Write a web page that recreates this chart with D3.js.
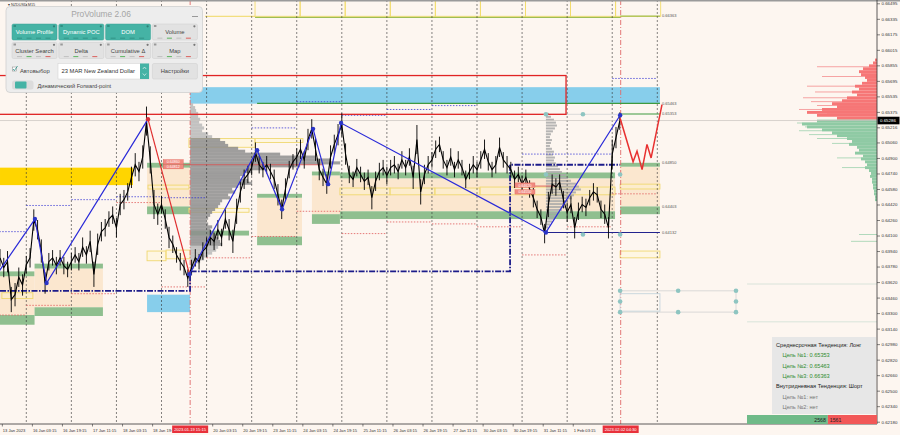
<!DOCTYPE html>
<html><head><meta charset="utf-8">
<script src="https://cdn.jsdelivr.net/npm/d3@7"></script>
<style>html,body{margin:0;padding:0;background:#fdf6f0;overflow:hidden}svg{display:block;font-family:"Liberation Sans","DejaVu Sans",Arial,sans-serif}</style>
</head><body>
<svg id="chart" width="900" height="435"></svg>
<script>
// ---------------- DATA ----------------
const symbolLabel = "▾ NZDUSD,M15";
const currentPrice = 0.65286;
const priceStartHour = -14, priceStepHours = 2;   // trading hours from 16 Jan 00:00
const closes = [
 0.6387,0.6377,0.6383,0.6344,0.6349,0.6367,0.6359,0.6380,0.6387,0.6426,
 0.6416,0.6394,0.6361,0.6383,0.6387,0.6379,0.6387,0.6379,0.6375,0.6383,
 0.6390,0.6383,0.6398,0.6390,0.6404,0.6370,0.6401,0.6414,0.6418,0.6427,
 0.6431,0.6418,0.6442,0.6447,0.6455,0.6470,0.6483,0.6476,0.6491,0.6528,
 0.6488,0.6442,0.6432,0.6442,0.6427,0.6408,0.6401,0.6390,0.6383,0.6377,
 0.6366,0.6377,0.6387,0.6383,0.6394,0.6398,0.6408,0.6404,0.6416,0.6408,
 0.6427,0.6416,0.6404,0.6435,0.6455,0.6468,0.6473,0.6480,0.6496,0.6483,
 0.6478,0.6483,0.6476,0.6468,0.6452,0.6437,0.6458,0.6478,0.6486,0.6491,
 0.6499,0.6488,0.6509,0.6520,0.6499,0.6478,0.6470,0.6463,0.6491,0.6504,
 0.6514,0.6524,0.6494,0.6473,0.6468,0.6480,0.6473,0.6466,0.6470,0.6449,
 0.6466,0.6476,0.6480,0.6472,0.6480,0.6483,0.6476,0.6488,0.6480,0.6491,
 0.6470,0.6509,0.6455,0.6473,0.6483,0.6488,0.6499,0.6504,0.6488,0.6480,
 0.6491,0.6478,0.6488,0.6480,0.6468,0.6476,0.6483,0.6478,0.6488,0.6499,
 0.6486,0.6478,0.6483,0.6501,0.6488,0.6483,0.6478,0.6468,0.6473,0.6463,
 0.6470,0.6458,0.6449,0.6437,0.6429,0.6412,0.6442,0.6463,0.6460,0.6465,
 0.6447,0.6434,0.6442,0.6418,0.6435,0.6442,0.6439,0.6449,0.6455,0.6452,
 0.6437,0.6432,0.6418,0.6494,0.6511,0.6528];
// 2-hour bar ranges, pips
const rangePips = [
 18,20,22,26,24,20,22,18,20,22, 20,24,22,18,16,18,16,18,16,18,
 16,18,20,18,22,26,22,20,18,16, 18,20,22,20,18,22,24,20,24,30,
 28,30,22,18,20,22,18,16,18,16, 18,16,18,16,18,20,16,18,20,18,
 20,22,24,26,22,20,18,16,20,18, 16,18,16,20,22,20,22,18,16,18,
 20,18,22,20,24,22,18,20,24,20, 22,24,22,18,16,18,16,18,16,24,
 20,18,16,18,16,18,16,18,16,18, 24,30,26,20,18,16,18,16,18,16,
 18,16,18,16,18,16,18,16,18,20, 18,16,18,20,16,18,16,18,16,18,
 16,18,20,18,16,20,26,20,18,16, 18,20,18,22,18,16,18,16,18,16,
 18,20,22,30,22,18];

const yTicks = [0.66495,0.66335,0.66175,0.66015,0.65855,0.65695,0.65535,0.65375,0.65216,0.65060,
 0.64900,0.64740,0.64580,0.64420,0.64260,0.64100,0.63940,0.63780,0.63620,0.63460,0.63300,
 0.63140,0.62980,0.62820,0.62660,0.62500,0.62340,0.62180];

const timeLabelStartHour = -12.75, timeLabelStepHours = 16;
const timeLabels = ["13 Jan 2023","16 Jan 03:15","16 Jan 19:15","17 Jan 11:15","18 Jan 03:15","18 Jan 19:15",
 null,"20 Jan 03:15","20 Jan 19:15","23 Jan 11:15","24 Jan 03:15","24 Jan 19:15","25 Jan 11:15",
 "26 Jan 03:15","26 Jan 19:15","27 Jan 11:15","30 Jan 03:15","30 Jan 19:15","31 Jan 11:15","1 Feb 03:15"];
const timeMarkers = [{hour:87.25,label:"2023.01.19 15:15"},{hour:316.5,label:"2023.02.02 04:30"}];
const separatorDays = [0,1,2,3,4,5,6,7,8,9,10,11,12,13,14];

// zigzag
const zzLeftHours = [-16.7,4.6,10.8,64.8], zzLeftPrices = [0.6367,0.6427,0.6361,0.6530];
const zzDownHours = [64.8,86.9], zzDownPrices = [0.6530,0.6370];
const zzRightHours = [86.9,122.9,136.2,152.7,160.7,167.6,276.7,316.2];
const zzRightPrices = [0.6370,0.6498,0.6437,0.6520,0.6463,0.6526,0.64132,0.6534];
const forecastHours = [316.2,323.1,325.2,327.9,330.5,332.7,338.5];
const forecastPrices = [0.6531,0.6486,0.6497,0.6478,0.6504,0.6490,0.6545];

// value-area boxes [startHour, endHour, topBandHi, topBandLo, botBandHi, botBandLo]
const vaBoxes = [
 [-14,4.4,0.6373,0.6368,0.6328,0.6318],
 [4.4,40.8,0.6381,0.6376,0.6336,0.6327],
 [64.3,87.2,0.6485,0.6480,0.6440,0.6432],
 [122.9,146.8,0.6453,0.6449,0.6409,0.6400],
 [152.1,167.0,0.6476,0.6472,0.6432,0.6422],
 [167.0,313.5,0.6475,0.6469,0.6435,0.6427],
 [316.2,337.4,0.6485,0.6481,0.6440,0.6432]];
const greenBands = [[87.2,118.6,0.6415,0.6410]];
const goldBoxes = [[-14,56.8,0.6480,0.6462]];
const skyBoxes = [[87.2,337.4,0.6563,0.6546],[64.3,87.2,0.6349,0.6331]];
const yellowBoxes = [
 [-13,3.5,0.6351,0.6345],[64.8,86.6,0.6462,0.6458],[64.3,74.4,0.6394,0.6384],[74.4,87.2,0.6395,0.6386],
 [86.6,121.8,0.6510,0.6501],[121.8,147.3,0.6510,0.6506],[86.6,118.6,0.6438,0.6434],
 [167.0,193.7,0.6459,0.6452],[193.7,217.6,0.6459,0.6452],[217.6,241.6,0.6459,0.6452],[241.6,313.5,0.6460,0.6452],
 [316.2,337.4,0.6463,0.6458],[316.2,337.4,0.6394,0.6387]];
const topBoxStarts = [121.8,145.8,169.8,193.8,217.8,241.8,265.8,289.8,313.8];
const redRect = [-30,287.4,0.6575,0.6535];

// daily levels (day index, price)
const dayBlue = [[-1,0.6414],[0,0.6441],[1,0.6447],[2,0.6450],[3,0.6449],[5,0.6521],[6,0.6548],[7,0.6534],[8,0.6540],[9,0.6544],[11,0.6494],[12,0.6494],[13,0.6572]];
const dayRed = [[-1,0.6328],[0,0.6338],[1,0.6350],[2,0.6444],[3,0.6357],[4,0.6387],[5,0.6409],[6,0.6435],[7,0.6412],[8,0.6424],[9,0.6422],[10,0.6419],[11,0.6390],[12,0.6419],[13,0.6453]];

// POC step line
const stepHours = [-14,87.2,87.2,257.6,257.6,316.2];
const stepPrices = [0.6353,0.6353,0.6373,0.6373,0.6483,0.6483];

const levelTags = [0.66363,0.65463,0.65353,0.64850,0.64403,0.64132];
const targets = [0.65353,0.65463,0.66363];

// volume profiles
const profileA = {hour:87.25, start:0.6545, step:0.0003, vols:[3,5,6,8,8,10,9,12,14,12,18,22,30,35,38,48,55,90,125,140,150,110,75,62,55,50,58,62,48,42,45,38,40,32,30,28,25,22,20,18,16,18,22,20,24,26,28,30,32,28,26,22,18,14,10,6,4]};
const profileB = {hour:276.7, start:0.6535, step:0.0003, vols:[3,5,8,10,11,9,7,5,4,6,5,4,6,8,7,9,8,10,12,14,16,20,22,25,30,33,35,30,28,26,22,18,20,16,12,10,8,6,4,2]};
const profileC = {start:0.6591, step:0.0003, vols:[2,4,8,14,18,16,12,10,15,22,18,25,20,30,35,45,40,55,70,60,40,60,75,70,55,45,40,30,25,28,20,18,22,14,16,12,10,12,8,6,7,5,5,4,4,3,3,2,2]};
const profileCFaint = [[0.6584,60],[0.6574,55],[0.6564,70],[0.6558,62],[0.6552,74],[0.6548,66],[0.6544,60],[0.6540,78],[0.6536,50],
 [0.6526,80],[0.6522,72],[0.6518,78],[0.6514,68],[0.6510,60],[0.6505,45],[0.6490,40],[0.6480,35],[0.6411,18],[0.6404,26]];
const farLines = [0.6360,0.6321];

const dots = [[276.7,0.6535],[296.4,0.6535],[276.7,0.6473],[316.2,0.6473],[296.4,0.6411],[316.2,0.6411],
 [316.2,0.6353],[347.1,0.6353],[377.9,0.6353],[316.2,0.6342],[377.9,0.6342],[316.2,0.6331],[347.1,0.6331],[377.9,0.6331]];
const grayLines = [[276.7,316.2,0.6535,0.6535],[316.2,377.9,0.6353,0.6353],[316.2,377.9,0.6331,0.6331],[377.9,377.9,0.6353,0.6331]];
const grayRect = [316.2,337.4,0.6350,0.6332];
const navyLevel = [276.7,337.4,0.64132];
const pocRed = [[83.5,158,0.6483],[270.9,282,0.6461]];
const priceTags = [[72.9,0.6486,"0.64860"],[72.9,0.6481,"0.64812"],[260.2,0.6462,"0.64620"],[260.2,0.6455,"0.64550"]];

const deltaVolumes = [2568,1561];
const infoLines = [
 {t:"Среднесрочная Тенденция: Лонг", k:"h"},
 {t:"Цель №1: "+targets[0].toFixed(5), k:"g"},
 {t:"Цель №2: "+targets[1].toFixed(5), k:"g"},
 {t:"Цель №3: "+targets[2].toFixed(5), k:"g"},
 {t:"Внутридневная Тенденция: Шорт", k:"h"},
 {t:"Цель №1: нет", k:"n"},
 {t:"Цель №2: нет", k:"n"}];

// ---------------- DRAW ----------------
const PR = 877, PB = 424;
const x = d3.scaleLinear().domain([0,336]).range([26.3,657.3]);
const y = d3.scaleLinear().domain([0.62180,0.66495]).range([421.7,3.3]);
const svg = d3.select("#chart");
svg.append("rect").attr("width",900).attr("height",435).attr("fill","#fdf6f0");
svg.append("defs").append("clipPath").attr("id","clip").append("rect").attr("x",0).attr("y",0).attr("width",PR).attr("height",PB);
const plot = svg.append("g").attr("clip-path","url(#clip)");

function box(g,h0,h1,p0,p1){
  const yy0 = y(Math.max(p0,p1)), yy1 = y(Math.min(p0,p1));
  return g.append("rect").attr("x",x(h0)).attr("y",yy0).attr("width",x(h1)-x(h0)).attr("height",Math.max(0.8,yy1-yy0));
}
const BEIGE="#fbe7cf", GREEN="#8fbf8f";
vaBoxes.forEach(b=>{
  box(plot,b[0],b[1],b[3],b[4]).attr("fill",BEIGE);
  box(plot,b[0],b[1],b[2],b[3]).attr("fill",GREEN);
  box(plot,b[0],b[1],b[4],b[5]).attr("fill",GREEN);
});
greenBands.forEach(b=>box(plot,b[0],b[1],b[2],b[3]).attr("fill",GREEN));
goldBoxes.forEach(b=>box(plot,b[0],b[1],b[2],b[3]).attr("fill","#ffd500"));
skyBoxes.forEach(b=>box(plot,b[0],b[1],b[2],b[3]).attr("fill","#87ceeb"));

topBoxStarts.forEach(h=>{
  plot.append("rect").attr("x",x(h)).attr("y",-3).attr("width",x(h+24)-x(h)).attr("height",y(0.66361)+3)
   .attr("fill","none").attr("stroke","#f3dc6c").attr("stroke-width",0.9);
});
plot.append("line").attr("x1",x(95.2)).attr("x2",x(121.8)).attr("y1",y(0.66361)).attr("y2",y(0.66361)).attr("stroke","#f0d860").attr("stroke-width",1);
plot.append("line").attr("x1",x(121.8)).attr("x2",x(316.2)).attr("y1",y(0.66350)).attr("y2",y(0.66350)).attr("stroke","#8fb43c").attr("stroke-width",1);
plot.append("line").attr("x1",x(316.2)).attr("x2",x(337.4)).attr("y1",y(0.66363)).attr("y2",y(0.66363)).attr("stroke","#8fb43c").attr("stroke-width",1);

yellowBoxes.forEach(b=>box(plot,b[0],b[1],b[2],b[3]).attr("fill","rgba(255,246,200,0.35)").attr("stroke","#f0d870").attr("stroke-width",0.9));

const binH = Math.abs(y(0)-y(profileA.step));
profileA.vols.forEach((v,i)=>{
  const p = profileA.start - i*profileA.step;
  plot.append("rect").attr("x",x(profileA.hour)).attr("y",y(p)-binH/2).attr("width",v).attr("height",binH+0.2)
   .attr("fill",(p<0.6510 && p>0.6400)?"#8e8e8e":"#b9b9b9").attr("opacity",0.85);
});
profileB.vols.forEach((v,i)=>{
  const p = profileB.start - i*profileB.step;
  plot.append("rect").attr("x",x(profileB.hour)).attr("y",y(p)-binH/2).attr("width",v).attr("height",binH*0.7)
   .attr("fill","#a8a8a8").attr("opacity",0.85);
});
profileCFaint.forEach(d=>{
  plot.append("rect").attr("x",PR-d[1]).attr("y",y(d[0])-0.5).attr("width",d[1]).attr("height",0.9)
   .attr("fill",d[0]>currentPrice?"#f59a9a":"#a9d6b6");
});
profileC.vols.forEach((v,i)=>{
  const p = profileC.start - i*profileC.step;
  plot.append("rect").attr("x",PR-v).attr("y",y(p)-binH/2).attr("width",v).attr("height",binH)
   .attr("fill",p>currentPrice?"#f67676":"#8fcaa4");
});
farLines.forEach(p=>plot.append("line").attr("x1",x(383.8)).attr("x2",PR).attr("y1",y(p)).attr("y2",y(p)).attr("stroke","#cfe0d4").attr("stroke-width",0.8));

separatorDays.forEach(d=>{
  plot.append("line").attr("x1",x(24*d)).attr("x2",x(24*d)).attr("y1",0).attr("y2",PB)
   .attr("stroke","#333").attr("stroke-width",0.6).attr("stroke-dasharray","2,2");
});
dayBlue.forEach(d=>plot.append("line").attr("x1",x(24*d[0])).attr("x2",x(24*d[0]+24)).attr("y1",y(d[1])).attr("y2",y(d[1]))
  .attr("stroke","#3b3bd6").attr("stroke-width",0.8).attr("stroke-dasharray","1.5,1.5"));
dayRed.forEach(d=>plot.append("line").attr("x1",x(24*d[0])).attr("x2",x(24*d[0]+24)).attr("y1",y(d[1])).attr("y2",y(d[1]))
  .attr("stroke","#e05a5a").attr("stroke-width",0.8).attr("stroke-dasharray","1.5,1.5"));

timeMarkers.forEach(m=>plot.append("line").attr("x1",x(m.hour)).attr("x2",x(m.hour)).attr("y1",0).attr("y2",PB)
  .attr("stroke","#e06b6b").attr("stroke-width",0.9).attr("stroke-dasharray","5,2,1,2"));

plot.append("line").attr("x1",0).attr("x2",PR).attr("y1",y(currentPrice)).attr("y2",y(currentPrice)).attr("stroke","#c9c4c0").attr("stroke-width",0.7);

plot.append("line").attr("x1",x(122.9)).attr("x2",x(337.4)).attr("y1",y(0.65463)).attr("y2",y(0.65463)).attr("stroke","#3f9a3f").attr("stroke-width",1.1);
plot.append("line").attr("x1",x(316.2)).attr("x2",x(337.4)).attr("y1",y(0.65353)).attr("y2",y(0.65353)).attr("stroke","#3f9a3f").attr("stroke-width",1.1);
plot.append("line").attr("x1",x(navyLevel[0])).attr("x2",x(navyLevel[1])).attr("y1",y(navyLevel[2])).attr("y2",y(navyLevel[2])).attr("stroke","#23238e").attr("stroke-width",1.1);
grayLines.forEach(l=>plot.append("line").attr("x1",x(l[0])).attr("x2",x(l[1])).attr("y1",y(l[2])).attr("y2",y(l[3])).attr("stroke","#d2d2d2").attr("stroke-width",0.8));
box(plot,grayRect[0],grayRect[1],grayRect[2],grayRect[3]).attr("fill","none").attr("stroke","#c5d5dc").attr("stroke-width",0.9);

box(plot,redRect[0],redRect[1],redRect[2],redRect[3]).attr("fill","none").attr("stroke","#e02424").attr("stroke-width",1.3);

pocRed.forEach(l=>plot.append("line").attr("x1",x(l[0])).attr("x2",x(l[1])).attr("y1",y(l[2])).attr("y2",y(l[2])).attr("stroke","#d84a4a").attr("stroke-width",0.8));

plot.append("path").datum(stepHours.map((h,i)=>[h,stepPrices[i]]))
 .attr("d",d3.line().x(d=>x(d[0])).y(d=>y(d[1])))
 .attr("fill","none").attr("stroke","#1c1c8a").attr("stroke-width",1.8).attr("stroke-dasharray","6,1.5,1.5,1.5");

// price: bar ranges + close line
closes.forEach((c,i)=>{
  const h = priceStartHour+i*priceStepHours, r = rangePips[i]*0.0001/2;
  plot.append("line").attr("x1",x(h)).attr("x2",x(h)).attr("y1",y(c+r)).attr("y2",y(c-r)).attr("stroke","#000").attr("stroke-width",0.9);
});
plot.append("path").datum(closes)
 .attr("d",d3.line().x((d,i)=>x(priceStartHour+i*priceStepHours)).y(d=>y(d)))
 .attr("fill","none").attr("stroke","#000").attr("stroke-width",1.1).attr("stroke-linejoin","miter");

const zl = d3.line().x(d=>x(d[0])).y(d=>y(d[1]));
function zz(hs,ps,color,w){
  plot.append("path").datum(hs.map((h,i)=>[h,ps[i]])).attr("d",zl).attr("fill","none").attr("stroke",color).attr("stroke-width",w);
}
zz(zzLeftHours,zzLeftPrices,"#2a2ad8",1.2);
zz(zzDownHours,zzDownPrices,"#e03030",1.2);
zz(zzRightHours,zzRightPrices,"#2a2ad8",1.2);
zz(forecastHours,forecastPrices,"#e83030",1.5);
const blueDots = zzLeftHours.slice(1,3).map((h,i)=>[h,zzLeftPrices[i+1]]).concat(zzRightHours.map((h,i)=>[h,zzRightPrices[i]]));
dots.forEach(d=>plot.append("circle").attr("cx",x(d[0])).attr("cy",y(d[1])).attr("r",2.3).attr("fill","#8ec5c1"));
blueDots.forEach(d=>plot.append("circle").attr("cx",x(d[0])).attr("cy",y(d[1])).attr("r",2.2).attr("fill","#2a35c8"));
plot.append("circle").attr("cx",x(zzLeftHours[3])).attr("cy",y(zzLeftPrices[3])).attr("r",2.2).attr("fill","#d8303a");

priceTags.forEach(t=>{
  const yy=y(t[1]);
  plot.append("rect").attr("x",x(t[0])).attr("y",yy-2.2).attr("width",20).attr("height",4.4).attr("fill","#f08a80").attr("stroke","#e06058").attr("stroke-width",0.4);
  plot.append("text").attr("x",x(t[0])+10).attr("y",yy+1.4).attr("text-anchor","middle").attr("font-size",3.6).attr("fill","#fff").text(t[2]);
});

levelTags.forEach(p=>plot.append("text").attr("x",x(337.4)+2).attr("y",y(p)+1.4).attr("font-size",4).attr("fill","#555").text(p.toFixed(5)));

svg.append("rect").attr("x",0).attr("y",0).attr("width",900).attr("height",1.5).attr("fill","#9a9a9a");

// ---------------- AXES ----------------
const ax = svg.append("g").attr("transform",`translate(${PR},0)`)
 .call(d3.axisRight(y).tickValues(yTicks).tickSize(3).tickSizeOuter(0).tickFormat(d3.format(".5f")));
ax.select(".domain").remove();
ax.selectAll(".tick line").attr("stroke","#333").attr("stroke-width",0.6);
ax.selectAll(".tick text").attr("font-size",4.4).attr("fill","#333").attr("x",4.5).style("font-family","'Liberation Sans',Arial,sans-serif");
svg.append("line").attr("x1",PR).attr("x2",PR).attr("y1",0).attr("y2",PB).attr("stroke","#333").attr("stroke-width",0.8);
svg.append("line").attr("x1",0).attr("x2",PR).attr("y1",PB).attr("y2",PB).attr("stroke","#333").attr("stroke-width",0.8);
svg.append("rect").attr("x",PR+0.5).attr("y",y(currentPrice)-3.8).attr("width",22).attr("height",7.6).attr("fill","#000");
svg.append("text").attr("x",PR+3).attr("y",y(currentPrice)+1.6).attr("font-size",4.4).attr("fill","#fff").text(currentPrice.toFixed(5));

const bx = svg.append("g").attr("transform",`translate(0,${PB})`);
timeLabels.forEach((lab,k)=>{
  if(!lab) return;
  const h = timeLabelStartHour + k*timeLabelStepHours;
  bx.append("line").attr("x1",x(h)).attr("x2",x(h)).attr("y1",0).attr("y2",2.5).attr("stroke","#333").attr("stroke-width",0.6);
  bx.append("text").attr("x",x(h)+0.5).attr("y",7.5).attr("font-size",4.1).attr("fill","#333").text(lab);
});
timeMarkers.forEach(m=>{
  bx.append("rect").attr("x",x(m.hour)-18).attr("y",1.5).attr("width",36).attr("height",7.5).attr("fill","#e8303a");
  bx.append("text").attr("x",x(m.hour)).attr("y",7).attr("text-anchor","middle").attr("font-size",4.1).attr("fill","#fff").text(m.label);
});

// ---------------- INFO PANEL ----------------
svg.append("rect").attr("x",772).attr("y",337).attr("width",104).attr("height",77).attr("fill","#e6e6e6").attr("opacity",0.95);
infoLines.forEach((l,i)=>{
  svg.append("text").attr("x",l.k==="h"?776:782.5).attr("y",347+i*10.3).attr("font-size",5.6)
   .attr("fill",l.k==="h"?"#222":(l.k==="g"?"#2e8b2e":"#777")).text(l.t);
});
const dv = d3.scaleLinear().domain([0,d3.sum(deltaVolumes)]).range([747,PR]);
svg.append("rect").attr("x",dv(0)).attr("y",415).attr("width",dv(deltaVolumes[0])-dv(0)).attr("height",9).attr("fill","#6fba88");
svg.append("rect").attr("x",dv(deltaVolumes[0])).attr("y",415).attr("width",dv(d3.sum(deltaVolumes))-dv(deltaVolumes[0])).attr("height",9).attr("fill","#f25858");
svg.append("text").attr("x",dv(deltaVolumes[0])-2).attr("y",422).attr("text-anchor","end").attr("font-size",5.2).attr("fill","#222").text(deltaVolumes[0]);
svg.append("text").attr("x",dv(deltaVolumes[0])+2).attr("y",422).attr("font-size",5.2).attr("fill","#222").text(deltaVolumes[1]);

// ---------------- PRO VOLUME PANEL ----------------
svg.append("text").attr("x",8).attr("y",5.5).attr("font-size",3.8).attr("fill","#333").text(symbolLabel);
const pn = svg.append("g");
pn.append("rect").attr("x",6).attr("y",6.5).attr("width",196.5).attr("height",86).attr("rx",4).attr("fill","#ededed").attr("stroke","#cfcfcf").attr("stroke-width",0.8);
pn.append("text").attr("x",101).attr("y",17).attr("text-anchor","middle").attr("font-size",8.4).attr("fill","#a5a5a5").text("ProVolume 2.06");
pn.append("line").attr("x1",192).attr("x2",198).attr("y1",16.5).attr("y2",16.5).attr("stroke","#999").attr("stroke-width",1);
const buttons = [["Volume Profile",1],["Dynamic POC",1],["DOM",1],["Volume",0],["Cluster Search",0],["Delta",0],["Cumulative Δ",0],["Map",0]];
buttons.forEach((b,i)=>{
  const col=i%4,row=Math.floor(i/4);
  const bx0=12+col*46.8, by0=24+row*18.5, bw=45, bh=16;
  pn.append("rect").attr("x",bx0).attr("y",by0).attr("width",bw).attr("height",bh).attr("rx",1.5)
    .attr("fill",b[1]?"#45b3a5":"#e2e2e2").attr("stroke",b[1]?"#3aa394":"#cdcdcd").attr("stroke-width",0.5);
  pn.append("rect").attr("x",bx0+1.5).attr("y",by0+1).attr("width",2.5).attr("height",2).attr("fill",b[1]?"#2f8f83":"#999");
  pn.append("circle").attr("cx",bx0+bw-3).attr("cy",by0+2.3).attr("r",1.1).attr("fill",b[1]?"#2f7f75":"#777");
  [0,1,2,3].forEach(j=>pn.append("rect").attr("x",bx0+5+j*9.5).attr("y",by0+bh-2.3).attr("width",5).attr("height",0.9)
     .attr("fill",b[1]?"#2f8f83":(j===1?"#4caf50":(j===3?"#d9534f":"#bbb"))));
  pn.append("text").attr("x",bx0+bw/2).attr("y",by0+10.3).attr("text-anchor","middle").attr("font-size",5.8)
    .attr("fill",b[1]?"#fff":"#444").text(b[0]);
});
pn.append("rect").attr("x",12.5).attr("y",67).attr("width",4).attr("height",4).attr("fill","#fff").attr("stroke","#888").attr("stroke-width",0.5);
pn.append("path").attr("d","M13,69 L14.4,70.6 L17.5,66").attr("fill","none").attr("stroke","#2a8f85").attr("stroke-width",0.8);
pn.append("text").attr("x",20).attr("y",72.5).attr("font-size",5.8).attr("fill","#444").text("Автовыбор");
pn.append("rect").attr("x",58).attr("y",63.5).attr("width",91).attr("height",15.5).attr("fill","#fff").attr("stroke","#d0d0d0").attr("stroke-width",0.5);
pn.append("rect").attr("x",140).attr("y",63.5).attr("width",9).attr("height",15.5).attr("fill","#45b3a5");
pn.append("path").attr("d","M142.8,69 L144.5,67 L146.2,69 M142.8,73.5 L144.5,75.5 L146.2,73.5").attr("fill","none").attr("stroke","#fff").attr("stroke-width",0.6);
pn.append("text").attr("x",61.5).attr("y",73.3).attr("font-size",5.8).attr("fill","#333").text("23 MAR New Zealand Dollar");
pn.append("rect").attr("x",152.4).attr("y",63.5).attr("width",45).attr("height",15.5).attr("rx",1.5).attr("fill","#e2e2e2").attr("stroke","#cdcdcd").attr("stroke-width",0.5);
pn.append("text").attr("x",174.9).attr("y",73.3).attr("text-anchor","middle").attr("font-size",5.8).attr("fill","#444").text("Настройки");
pn.append("rect").attr("x",12).attr("y",80.5).attr("width",21.5).attr("height",9).attr("rx",2.5).attr("fill","#dcdcdc");
pn.append("rect").attr("x",15).attr("y",81.5).attr("width",11.5).attr("height",7).attr("rx",1).attr("fill","#45b3a5");
pn.append("text").attr("x",37.5).attr("y",87.5).attr("font-size",5.6).attr("fill","#444").text("Динамический Forward-point");
</script></body></html>
